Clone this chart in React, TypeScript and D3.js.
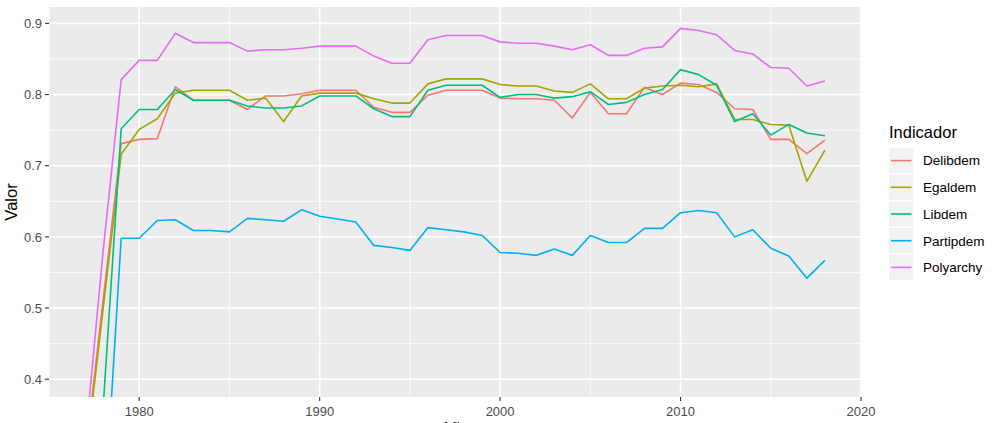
import React from "react";
import * as d3 from "d3";

const years = d3.range(1977, 2019);
const delibdem = [0.29, 0.511, 0.731, 0.737, 0.738, 0.811, 0.792, 0.792, 0.792, 0.779, 0.798, 0.798, 0.801, 0.806, 0.806, 0.806, 0.782, 0.775, 0.775, 0.799, 0.806, 0.806, 0.806, 0.795, 0.794, 0.794, 0.792, 0.767, 0.803, 0.773, 0.773, 0.810, 0.800, 0.816, 0.814, 0.803, 0.780, 0.779, 0.737, 0.737, 0.717, 0.736];
const egaldem = [0.28, 0.499, 0.716, 0.751, 0.766, 0.802, 0.806, 0.806, 0.806, 0.792, 0.795, 0.762, 0.798, 0.802, 0.802, 0.802, 0.794, 0.788, 0.788, 0.815, 0.822, 0.822, 0.822, 0.814, 0.812, 0.812, 0.805, 0.803, 0.815, 0.794, 0.794, 0.809, 0.812, 0.813, 0.811, 0.815, 0.765, 0.765, 0.758, 0.757, 0.678, 0.722];
const libdem = [0.10, 0.36, 0.752, 0.779, 0.779, 0.807, 0.792, 0.792, 0.792, 0.784, 0.781, 0.781, 0.784, 0.798, 0.798, 0.798, 0.780, 0.769, 0.769, 0.806, 0.813, 0.813, 0.813, 0.796, 0.800, 0.800, 0.795, 0.797, 0.804, 0.786, 0.789, 0.800, 0.807, 0.835, 0.828, 0.813, 0.762, 0.773, 0.743, 0.758, 0.746, 0.742];
const partipdem = [0.05, 0.18, 0.598, 0.598, 0.623, 0.624, 0.609, 0.609, 0.607, 0.626, 0.624, 0.622, 0.638, 0.629, 0.625, 0.621, 0.588, 0.585, 0.581, 0.613, 0.610, 0.607, 0.602, 0.578, 0.577, 0.574, 0.583, 0.574, 0.602, 0.592, 0.592, 0.612, 0.612, 0.634, 0.637, 0.634, 0.600, 0.610, 0.584, 0.573, 0.542, 0.567];
const polyarchy = [0.31, 0.58, 0.821, 0.848, 0.848, 0.886, 0.873, 0.873, 0.873, 0.861, 0.863, 0.863, 0.865, 0.868, 0.868, 0.868, 0.854, 0.844, 0.844, 0.877, 0.883, 0.883, 0.883, 0.874, 0.872, 0.872, 0.868, 0.863, 0.870, 0.855, 0.855, 0.865, 0.867, 0.893, 0.890, 0.884, 0.862, 0.857, 0.838, 0.837, 0.812, 0.819];

const seriesNames = ["Delibdem", "Egaldem", "Libdem", "Partipdem", "Polyarchy"];
const seriesValues = [delibdem, egaldem, libdem, partipdem, polyarchy];
const seriesColors = ["#F8766D", "#A3A500", "#00BF7D", "#00B0F6", "#E76BF3"];

const xTicks = [1980, 1990, 2000, 2010, 2020];
const xMinor = [1975, 1985, 1995, 2005, 2015];
const yTicks = [0.4, 0.5, 0.6, 0.7, 0.8, 0.9];
const yMinor = [0.45, 0.55, 0.65, 0.75, 0.85];

const W = 1001, H = 423;
const pL = 49, pR = 861, pT = 7, pB = 397;
const FONT = "'Liberation Sans', Arial, Helvetica, sans-serif";

export default function App() {
  const x = d3.scaleLinear().domain([1975, 2020]).range([pL, pR]);
  const y = d3.scaleLinear().domain([0.375, 0.923]).range([pB, pT]);
  const line = d3.line<number>().x((_, i) => x(years[i])).y((d) => y(d));

  const legX = 889, legY0 = 148, keyH = 26.7, keyW = 24.5;

  return (
    <svg width={W} height={H} style={{ position: "absolute", left: 0, top: 0, fontFamily: FONT }}>
      <defs>
        <clipPath id="panel">
          <rect x={pL} y={pT} width={pR - pL} height={pB - pT} />
        </clipPath>
      </defs>
      <rect x={0} y={0} width={W} height={H} fill="#fff" />
      <rect x={pL} y={pT} width={pR - pL} height={pB - pT} fill="#EBEBEB" />
      {yMinor.map((v) => (
        <line key={"ym" + v} x1={pL} x2={pR} y1={y(v)} y2={y(v)} stroke="#fff" strokeWidth={0.8} />
      ))}
      {xMinor.map((v) => (
        <line key={"xm" + v} x1={x(v)} x2={x(v)} y1={pT} y2={pB} stroke="#fff" strokeWidth={0.8} />
      ))}
      {yTicks.map((v) => (
        <line key={"yM" + v} x1={pL} x2={pR} y1={y(v)} y2={y(v)} stroke="#fff" strokeWidth={1.6} />
      ))}
      {xTicks.map((v) => (
        <line key={"xM" + v} x1={x(v)} x2={x(v)} y1={pT} y2={pB} stroke="#fff" strokeWidth={1.6} />
      ))}
      <g clipPath="url(#panel)">
        {seriesValues.map((vals, i) => (
          <path key={seriesNames[i]} d={line(vals) || ""} fill="none" stroke={seriesColors[i]} strokeWidth={1.6} strokeLinejoin="round" />
        ))}
      </g>
      {yTicks.map((v) => (
        <g key={"yt" + v}>
          <line x1={pL - 4} x2={pL} y1={y(v)} y2={y(v)} stroke="#333" strokeWidth={1.1} />
          <text x={pL - 7} y={y(v)} dy="0.36em" textAnchor="end" fontSize={13} fill="#4D4D4D">{v.toFixed(1)}</text>
        </g>
      ))}
      {xTicks.map((v) => (
        <g key={"xt" + v}>
          <line x1={x(v)} x2={x(v)} y1={pB} y2={pB + 4} stroke="#333" strokeWidth={1.1} />
          <text x={x(v)} y={416} textAnchor="middle" fontSize={13} fill="#4D4D4D">{v}</text>
        </g>
      ))}
      <text transform={`translate(17,${(pT + pB) / 2}) rotate(-90)`} textAnchor="middle" fontSize={16.5} fill="#000">Valor</text>
      <text x={(pL + pR) / 2} y={434} textAnchor="middle" fontSize={16.5} fill="#000">Año</text>
      <text x={legX} y={138} fontSize={16.5} fill="#000">Indicador</text>
      {seriesNames.map((n, i) => {
        const ky = legY0 + i * keyH;
        return (
          <g key={"leg" + n}>
            <rect x={legX} y={ky} width={keyW} height={keyH - 1.5} fill="#F2F2F2" />
            <line x1={legX + 2} x2={legX + keyW - 2} y1={ky + (keyH - 1.5) / 2} y2={ky + (keyH - 1.5) / 2} stroke={seriesColors[i]} strokeWidth={1.6} />
            <text x={923} y={ky + (keyH - 1.5) / 2} dy="0.36em" fontSize={13.5} fill="#000">{n}</text>
          </g>
        );
      })}
    </svg>
  );
}
